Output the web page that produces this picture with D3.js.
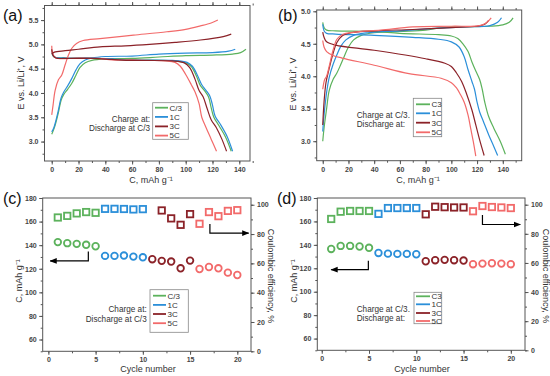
<!DOCTYPE html>
<html>
<head>
<meta charset="utf-8">
<script src="https://cdn.jsdelivr.net/npm/d3@7"></script>
<style>
body { margin: 0; background: #fff; }
svg { font-family: "Liberation Sans", Arial, sans-serif; }
.tick text { font-size: 7px; font-weight: bold; fill: #444; }
.tick line { stroke: #555; }
.domain { stroke: none; }
</style>
</head>
<body>
<script>
// ---- data ----
var rates = ["C/3", "1C", "3C", "5C"];
var ratesB = ["C3", "1C", "3C", "5C"];
var colors = ["#5cb25c", "#2b8fd9", "#8b2228", "#f26a6a"];

// panel (a): charge at different rates, discharge at C/3  [capacity, voltage]
var a_chg_C3 = [[0,3.15],[1.5,3.25],[3,3.38],[5,3.6],[7,3.85],[9,3.97],[12,4.08],[15,4.2],[18,4.36],[21,4.52],[25,4.62],[30,4.67],[40,4.7],[60,4.71],[80,4.74],[100,4.77],[120,4.78],[135,4.8],[141,4.83],[145,4.9]];
var a_chg_1C = [[0,3.2],[1.5,3.28],[3,3.42],[5,3.65],[7,3.9],[9,4.02],[12,4.15],[15,4.3],[18,4.47],[21,4.6],[25,4.68],[30,4.72],[40,4.75],[60,4.76],[80,4.8],[100,4.82],[120,4.83],[132,4.86],[137,4.9]];
var a_chg_3C = [[0,4.8],[2,4.84],[10,4.87],[20,4.9],[36,4.95],[55,4.97],[73,5.0],[92,5.04],[111,5.09],[128,5.16],[134,5.21]];
var a_chg_5C = [[0,3.55],[1,3.75],[2.5,4.05],[5,4.27],[7.5,4.37],[10,4.58],[12.5,4.78],[15,4.92],[18.5,5.02],[23.5,5.08],[36,5.12],[61,5.19],[86,5.26],[100,5.31],[111,5.38],[119,5.44],[124,5.5]];
var a_dis_C3 = [[0.3,4.8],[1,4.76],[3,4.73],[10,4.72],[30,4.72],[45,4.7],[60,4.68],[90,4.66],[100,4.62],[104,4.55],[108,4.35],[111,4.15],[114,4.05],[117,3.92],[119,3.7],[121,3.5],[125,3.32],[130,3.08],[134,2.8]];
var a_dis_1C = [[0.3,4.82],[1,4.77],[3,4.73],[10,4.72],[30,4.72],[45,4.7],[60,4.68],[90,4.67],[101,4.63],[105,4.55],[109,4.35],[112,4.17],[115,4.06],[118,3.94],[120,3.75],[122,3.52],[126,3.35],[131,3.1],[135,2.8]];
var a_dis_3C = [[0,4.9],[0.8,4.78],[3,4.72],[10,4.71],[30,4.71],[45,4.69],[60,4.67],[90,4.66],[99,4.62],[103,4.52],[107,4.28],[110,4.05],[113,3.92],[116,3.68],[119,3.45],[123,3.28],[127,3.05],[130.5,2.8]];
var a_dis_5C = [[0,4.97],[0.8,4.8],[3,4.72],[20,4.72],[35,4.71],[45,4.68],[60,4.68],[85,4.66],[92,4.63],[96,4.55],[100,4.38],[104,4.18],[107,4.02],[110,3.78],[112,3.5],[115,3.3],[119,3.05],[123,2.8]];

// panel (b): charge at C/3, discharge at different rates
var b_chg_C3 = [[0,3.0],[1,3.2],[3,3.5],[5,3.78],[8,3.95],[11,4.05],[14,4.18],[17,4.32],[20,4.45],[24,4.56],[30,4.63],[40,4.67],[60,4.69],[80,4.71],[90,4.74],[100,4.76],[130,4.77],[140,4.79],[145,4.83],[148,4.9]];
var b_chg_1C = [[0,3.15],[1,3.4],[3,3.75],[5,3.98],[8,4.18],[11,4.33],[14,4.46],[18,4.56],[24,4.63],[35,4.67],[60,4.7],[90,4.74],[110,4.76],[130,4.78],[136,4.83],[139,4.9]];
var b_chg_3C = [[0,3.25],[1,3.6],[2.5,3.9],[5,4.12],[8,4.35],[11,4.52],[15,4.62],[22,4.67],[40,4.7],[70,4.72],[100,4.75],[120,4.77],[126,4.8],[129,4.86]];
var b_chg_5C = [[0,3.8],[1.5,3.95],[3,4.0],[5,4.15],[8,4.4],[11,4.57],[15,4.64],[25,4.68],[45,4.71],[70,4.76],[100,4.77],[122,4.78],[127,4.82],[131,4.9]];
var b_dis_C3 = [[0,4.83],[1,4.75],[3,4.71],[10,4.7],[40,4.69],[60,4.66],[90,4.64],[100,4.62],[105,4.58],[109,4.5],[113,4.38],[116,4.22],[119,4.08],[122,3.95],[124,3.8],[126,3.6],[129,3.38],[133,3.2],[138,3.0],[142,2.8]];
var b_dis_1C = [[0,4.8],[1,4.7],[3,4.66],[10,4.65],[40,4.63],[70,4.6],[90,4.57],[100,4.53],[106,4.45],[110,4.3],[113,4.1],[116,3.92],[118,3.8],[120,3.6],[122,3.45],[125,3.3],[129,3.1],[133,2.92],[136,2.78]];
var b_dis_3C = [[0,4.68],[1,4.6],[3,4.53],[10,4.48],[40,4.4],[80,4.27],[95,4.2],[100,4.15],[104,4.05],[108,3.92],[112,3.72],[116,3.48],[119,3.25],[122,3.02],[125.5,2.78]];
var b_dis_5C = [[0,4.55],[1,4.45],[3,4.38],[8,4.32],[15,4.28],[40,4.17],[67,4.04],[92,3.97],[100,3.9],[104,3.82],[107,3.72],[110,3.6],[113,3.4],[115,3.2],[117,3.0],[119,2.77]];

// panels (c) and (d): cycling, capacity (circles) and coulombic efficiency (squares)
var cyc_C3 = [1, 2, 3, 4, 5];
var cyc_1C = [6, 7, 8, 9, 10];
var cyc_3C = [11, 12, 13, 14, 15];
var cyc_5C = [16, 17, 18, 19, 20];

var c_cap_C3 = [142.6, 141.7, 141.1, 140.3, 139.1];
var c_cap_1C = [130.9, 130.9, 131.2, 130.3, 129.7];
var c_cap_3C = [128.1, 126.7, 126.1, 120.4, 126.9];
var c_cap_5C = [119.8, 121.5, 120.4, 116.7, 114.7];
var c_ce_C3 = [91.3, 92.4, 94.1, 95.0, 94.5];
var c_ce_1C = [97.2, 97.2, 97.1, 96.8, 97.0];
var c_ce_3C = [null, 96.1, 90.7, 86.3, 93.6];
var c_ce_5C = [87.0, 95.0, 92.2, 95.8, 96.3];

var d_cap_C3 = [136.5, 139.1, 139.1, 138.6, 137.5];
var d_cap_1C = [133.1, 132.5, 132.3, 132.3, 132.0];
var d_cap_3C = [126.0, 126.9, 127.2, 126.9, 126.6];
var d_cap_5C = [123.5, 124.0, 124.3, 124.0, 123.5];
var d_ce_C3 = [90.2, 95.2, 95.7, 95.7, 95.7];
var d_ce_1C = [93.7, 97.7, 97.7, 97.7, 97.7];
var d_ce_3C = [93.4, 98.6, 98.3, 98.1, 98.1];
var d_ce_5C = [95.5, 99.1, 98.4, 98.1, 97.7];

// arrows [cycle, value]
var c_arrowCap = [[4.23, 134.6], [4.23, 126.6], [0.2, 126.6]];
var c_arrowCE = [[17.1, 86.8], [17.1, 80.6], [21.2, 80.6]];
var d_arrowCap = [[4.93, 126.5], [4.93, 118.8], [1.0, 118.8]];
var d_arrowCE = [[17.0, 93.0], [17.0, 86.4], [21.0, 86.4]];

// ---- drawing ----
var svg = d3.select("body").append("svg")
    .attr("width", 550)
    .attr("height", 376);

svg.append("defs").append("marker")
    .attr("id", "arr")
    .attr("viewBox", "0 0 10 10")
    .attr("refX", 9).attr("refY", 5)
    .attr("markerWidth", 6).attr("markerHeight", 6)
    .attr("orient", "auto")
  .append("path")
    .attr("d", "M0,1L10,5L0,9Z")
    .attr("fill", "#000");

function range(a, b, s) { return d3.range(a, b + s / 2, s); }

function frame(box) {
  svg.append("rect")
      .attr("x", box.l).attr("y", box.t)
      .attr("width", box.r - box.l).attr("height", box.b - box.t)
      .attr("fill", "none").attr("stroke", "#555").attr("stroke-width", 1);
}

// make() returns a fresh d3 axis generator
function axis(make, pos, major, minor, fmt, labels) {
  svg.append("g").attr("transform", pos)
      .call(make().tickValues(minor).tickSize(2).tickFormat(""));
  svg.append("g").attr("transform", pos)
      .call(make().tickValues(major).tickSize(3.5).tickPadding(2.5)
        .tickFormat(labels ? fmt : ""));
}

function title(txt, x, y, rot) {
  svg.append("text")
      .attr("transform", "translate(" + x + "," + y + ")" + (rot ? " rotate(" + rot + ")" : ""))
      .attr("text-anchor", "middle")
      .attr("font-size", 9)
      .attr("fill", "#333")
      .text(txt);
}

function panelLabel(txt, x, y) {
  svg.append("text").attr("x", x).attr("y", y)
      .attr("font-size", 16).attr("fill", "#111").text(txt);
}

function legend(box, names, yRows, x0, len) {
  svg.append("rect")
      .attr("x", box.l).attr("y", box.t)
      .attr("width", box.r - box.l).attr("height", box.b - box.t)
      .attr("fill", "#fff").attr("stroke", "#888").attr("stroke-width", 0.8);
  names.forEach(function(n, i) {
    svg.append("line")
        .attr("x1", x0).attr("x2", x0 + len)
        .attr("y1", yRows[i]).attr("y2", yRows[i])
        .attr("stroke", colors[i]).attr("stroke-width", 1.8);
    svg.append("text")
        .attr("x", x0 + len + 1.5).attr("y", yRows[i] + 2.8)
        .attr("font-size", 8).attr("fill", "#333").text(n);
  });
}

function note(lines, x, ys, anchor) {
  lines.forEach(function(t, i) {
    svg.append("text").attr("x", x).attr("y", ys[i])
        .attr("text-anchor", anchor)
        .attr("font-size", 8.2).attr("fill", "#333").text(t);
  });
}

// voltage profile panels
function profile(box, xd, yd, curves, yMajor, yMinor) {
  var x = d3.scaleLinear().domain(xd).range([box.l, box.r]);
  var y = d3.scaleLinear().domain(yd).range([box.b, box.t]);
  var line = d3.line()
      .x(function(d) { return x(d[0]); })
      .y(function(d) { return y(d[1]); })
      .curve(d3.curveCatmullRom.alpha(0.5));
  curves.forEach(function(c) {
    svg.append("path")
        .datum(c.data)
        .attr("d", line)
        .attr("fill", "none")
        .attr("stroke", c.color)
        .attr("stroke-width", 1.2);
  });
  frame(box);
  var f1 = d3.format(".1f");
  axis(function() { return d3.axisBottom(x); }, "translate(0," + box.b + ")", range(0, 140, 20), range(0, 150, 10), d3.format("d"), true);
  axis(function() { return d3.axisTop(x); }, "translate(0," + box.t + ")", range(0, 140, 20), range(0, 150, 10), null, false);
  axis(function() { return d3.axisLeft(y); }, "translate(" + box.l + ",0)", yMajor, yMinor, f1, true);
}

var boxA = {l: 44.5, r: 250, t: 5.5, b: 161};
profile(boxA, [-5.4, 148], [2.6, 5.8], [
  {data: a_chg_C3, color: colors[0]}, {data: a_dis_C3, color: colors[0]},
  {data: a_chg_1C, color: colors[1]}, {data: a_dis_1C, color: colors[1]},
  {data: a_chg_5C, color: colors[3]}, {data: a_dis_5C, color: colors[3]},
  {data: a_chg_3C, color: colors[2]}, {data: a_dis_3C, color: colors[2]}
], range(3.0, 5.5, 0.5), range(2.75, 5.75, 0.25));
title("E vs. Li/Li\u207A, V", 24, 83, -90);
title("C, mAh g\u207B\u00B9", 151, 183, 0);
panelLabel("(a)", 3, 21);
legend({l: 152.7, r: 188.3, t: 102.7, b: 139.3}, rates, [107.7, 116.9, 126.4, 135.6], 155, 13);
note(["Charge at:", "Discharge at C/3"], 150, [121.5, 131], "end");

var boxB = {l: 316.7, r: 521.7, t: 10, b: 160.7};
profile(boxB, [-4.7, 154.7], [2.7, 5.02], [
  {data: b_chg_C3, color: colors[0]}, {data: b_dis_C3, color: colors[0]},
  {data: b_chg_1C, color: colors[1]}, {data: b_dis_1C, color: colors[1]},
  {data: b_chg_3C, color: colors[2]}, {data: b_dis_3C, color: colors[2]},
  {data: b_chg_5C, color: colors[3]}, {data: b_dis_5C, color: colors[3]}
], range(3.0, 5.0, 0.5), range(2.75, 5.0, 0.25));
title("E vs. Li/Li\u207A, V", 296, 84, -90);
title("C, mAh g\u207B\u00B9", 418, 183, 0);
panelLabel("(b)", 278, 21);
legend({l: 413.3, r: 441.7, t: 98.3, b: 136.7}, ratesB, [104.3, 113.3, 122.7, 132.3], 416, 14);
note(["Charge at C/3.", "Discharge at:"], 356.7, [117.5, 127], "start");

// cycling panels
function cycling(box, xd, caps, ces, arrowCap, arrowCE) {
  var x = d3.scaleLinear().domain(xd).range([box.l, box.r]);
  var y = d3.scaleLinear().domain([50, 180]).range([box.b, box.t]);
  var y2 = d3.scaleLinear().domain([0, 104.6]).range([box.b, box.t]);
  var cycs = [cyc_C3, cyc_1C, cyc_3C, cyc_5C];

  frame(box);
  axis(function() { return d3.axisBottom(x); }, "translate(0," + box.b + ")", range(0, 20, 5), range(0, 20, 2.5), d3.format("d"), true);
  axis(function() { return d3.axisLeft(y); }, "translate(" + box.l + ",0)", range(60, 180, 20), range(50, 180, 10), d3.format("d"), true);
  axis(function() { return d3.axisRight(y2); }, "translate(" + box.r + ",0)", range(0, 100, 20), range(0, 100, 10), d3.format("d"), true);

  cycs.forEach(function(cy, i) {
    svg.append("g").selectAll("circle")
        .data(cy.map(function(c, k) { return [c, caps[i][k]]; }))
      .join("circle")
        .attr("cx", function(d) { return x(d[0]); })
        .attr("cy", function(d) { return y(d[1]); })
        .attr("r", 3.3)
        .attr("fill", "#fff")
        .attr("stroke", colors[i])
        .attr("stroke-width", 1.8);
    svg.append("g").selectAll("rect")
        .data(cy.map(function(c, k) { return [c, ces[i][k]]; })
          .filter(function(d) { return d[1] != null; }))
      .join("rect")
        .attr("x", function(d) { return x(d[0]) - 3.2; })
        .attr("y", function(d) { return y2(d[1]) - 3.2; })
        .attr("width", 6.4).attr("height", 6.4)
        .attr("fill", "#fff")
        .attr("stroke", colors[i])
        .attr("stroke-width", 1.8);
  });

  var la = d3.line().x(function(d) { return x(d[0]); }).y(function(d) { return y(d[1]); });
  var lb = d3.line().x(function(d) { return x(d[0]); }).y(function(d) { return y2(d[1]); });
  svg.append("path").attr("d", la(arrowCap)).attr("fill", "none")
      .attr("stroke", "#000").attr("stroke-width", 1.2).attr("marker-end", "url(#arr)");
  svg.append("path").attr("d", lb(arrowCE)).attr("fill", "none")
      .attr("stroke", "#000").attr("stroke-width", 1.2).attr("marker-end", "url(#arr)");
}

var boxC = {l: 42.7, r: 251, t: 198, b: 351.3};
cycling(boxC, [-0.6, 21.45],
  [c_cap_C3, c_cap_1C, c_cap_3C, c_cap_5C],
  [c_ce_C3, c_ce_1C, c_ce_3C, c_ce_5C], c_arrowCap, c_arrowCE);
title("C, mAh g\u207B\u00B9", 22, 281, -90);
title("Coulombic efficiency, %", 268, 276, 90);
title("Cycle number", 148, 372, 0);
panelLabel("(c)", 3, 204);
legend({l: 150, r: 188.3, t: 289.7, b: 332.3}, rates, [295.7, 304.9, 314, 323.2], 153, 13);
note(["Charge at:", "Discharge at C/3"], 146.7, [311.5, 321.5], "end");

var boxD = {l: 317.3, r: 525, t: 198, b: 350.3};
cycling(boxD, [-0.47, 21.5],
  [d_cap_C3, d_cap_1C, d_cap_3C, d_cap_5C],
  [d_ce_C3, d_ce_1C, d_ce_3C, d_ce_5C], d_arrowCap, d_arrowCE);
title("C, mAh g\u207B\u00B9", 297, 281, -90);
title("Coulombic efficiency, %", 543, 276, 90);
title("Cycle number", 422, 372, 0);
panelLabel("(d)", 277, 204);
legend({l: 414, r: 441.7, t: 292.3, b: 323.7}, ratesB, [296.3, 304.3, 313, 321], 416, 14);
note(["Charge at C/3.", "Discharge at:"], 356.7, [312, 320.5], "start");
</script>
</body>
</html>
